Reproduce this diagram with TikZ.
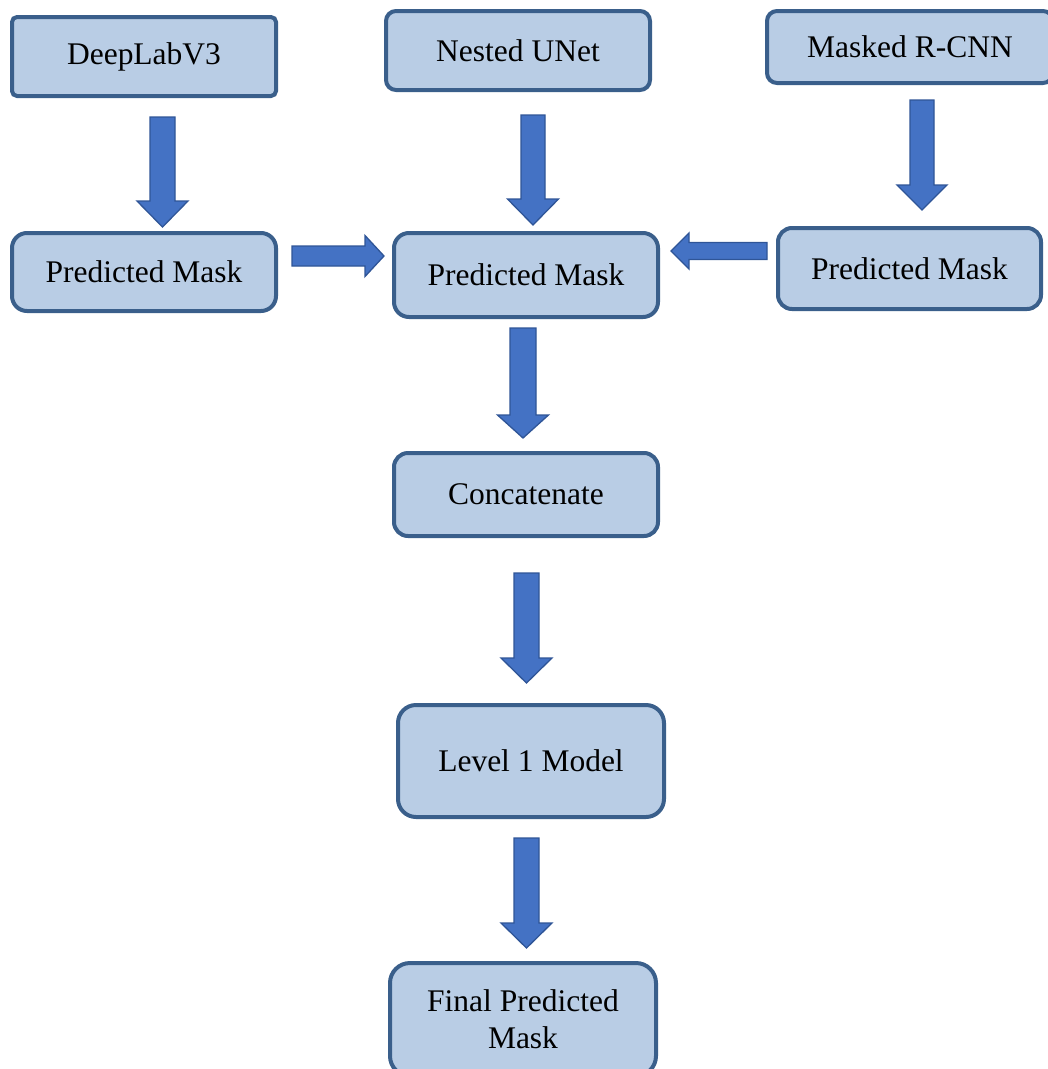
\documentclass[tikz,border=0pt]{standalone}
\usepackage{fontspec}
\setmainfont{Liberation Serif}
\usetikzlibrary{calc}

\definecolor{boxfill}{HTML}{B9CDE5}
\definecolor{boxline}{HTML}{3A5F8B}
\definecolor{arrowfill}{HTML}{4472C4}
\definecolor{arrowline}{HTML}{2F5597}

% block arrow from shaft start #1 to tip #2;
% #3 shaft half width, #4 head half width, #5 head length
\newcommand\fatarrow[5]{%
  \coordinate (#1-hb) at ($(#2)!#5!(#1)$);
  \draw[blockarrow]
    ($(#1)!#3!90:(#2)$) -- ($(#1-hb)!#3!90:(#2)$) -- ($(#1-hb)!#4!90:(#2)$)
    -- (#2)
    -- ($(#1-hb)!#4!-90:(#2)$) -- ($(#1-hb)!#3!-90:(#2)$) -- ($(#1)!#3!-90:(#2)$)
    -- cycle;}

\begin{document}
\begin{tikzpicture}[x=1pt,y=-1pt,
  stage/.style={draw=boxline, fill=boxfill, line width=4pt, rectangle,
    inner sep=0pt, align=center, font=\fontsize{31.5}{37}\selectfont},
  blockarrow/.style={draw=arrowline, fill=arrowfill, line width=1.3pt, line join=miter}]
\useasboundingbox (0,0) rectangle (1048,1069);
\clip (0,0) rectangle (1048,1069);

% model boxes
\node[stage, rounded corners=5pt, minimum width=264pt, minimum height=79pt] (deeplab) at (144,56.5) {DeepLabV3};
\node[stage, rounded corners=10pt, minimum width=264pt, minimum height=79pt] (unet) at (518,50.5) {Nested UNet};
\node[stage, rounded corners=10pt, minimum width=286pt, minimum height=72pt] (rcnn) at (910,47) {Masked R-CNN};

% predicted masks
\node[stage, rounded corners=15pt, minimum width=264pt, minimum height=78pt] (pmleft) at (144,272) {Predicted Mask};
\node[stage, rounded corners=15pt, minimum width=264pt, minimum height=84pt] (pmmid) at (526,275) {Predicted Mask};
\node[stage, rounded corners=14pt, minimum width=263pt, minimum height=81pt] (pmright) at (909.5,268.5) {Predicted Mask};

% fusion stages
\node[stage, rounded corners=14pt, minimum width=264pt, minimum height=83pt] (concat) at (526,494.5) {Concatenate};
\node[stage, rounded corners=18pt, minimum width=266pt, minimum height=112pt] (level) at (531,761) {Level 1 Model};
\node[stage, rounded corners=20pt, minimum width=266pt, minimum height=113pt] (final) at (523,1019.5) {Final Predicted\\Mask};

% arrow end points
\coordinate (a1s) at (162.5,117);  \coordinate (a1t) at (162.5,227);
\coordinate (a2s) at (533,115);    \coordinate (a2t) at (533,225);
\coordinate (a3s) at (922,100);    \coordinate (a3t) at (922,210);
\coordinate (a4s) at (292,256);    \coordinate (a4t) at (384,256);
\coordinate (a5s) at (767,251);    \coordinate (a5t) at (671,251);
\coordinate (a6s) at (523,328);    \coordinate (a6t) at (523,438);
\coordinate (a7s) at (526.5,573);  \coordinate (a7t) at (526.5,683);
\coordinate (a8s) at (526.5,838);  \coordinate (a8t) at (526.5,948);

\fatarrow{a1s}{a1t}{12.5pt}{25.5pt}{26pt}
\fatarrow{a2s}{a2t}{12pt}{25.5pt}{26pt}
\fatarrow{a3s}{a3t}{12pt}{25pt}{25pt}
\fatarrow{a4s}{a4t}{10pt}{20.5pt}{19pt}
\fatarrow{a5s}{a5t}{8.5pt}{18pt}{18pt}
\fatarrow{a6s}{a6t}{13pt}{25.5pt}{23pt}
\fatarrow{a7s}{a7t}{12.5pt}{25.5pt}{25pt}
\fatarrow{a8s}{a8t}{12.5pt}{25.5pt}{25pt}
\end{tikzpicture}
\end{document}
